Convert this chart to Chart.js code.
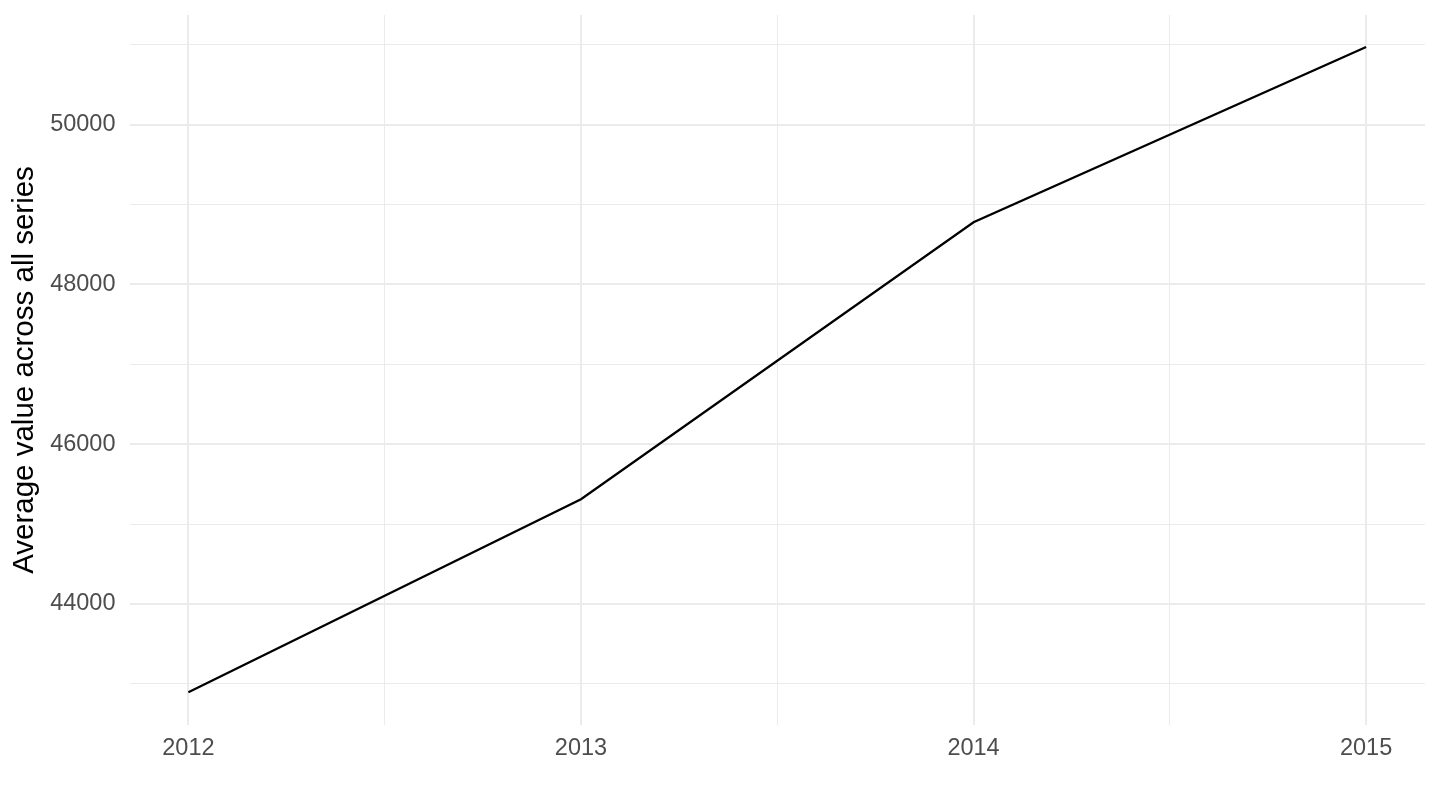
<!DOCTYPE html>
<html>
<head>
<meta charset="utf-8">
<style>
  html, body { margin: 0; padding: 0; background: #ffffff; }
  #wrap { width: 1440px; height: 810px; }
</style>
<script src="https://cdn.jsdelivr.net/npm/chart.js@4/dist/chart.umd.min.js"></script>
</head>
<body>
<div id="wrap"><canvas id="c" width="1440" height="810"></canvas></div>
<script>
// ---- data ----
const years = [2012, 2013, 2014, 2015];
const values = [42895, 45311, 48779, 50973];
const xTicks = [2012, 2012.5, 2013, 2013.5, 2014, 2014.5, 2015];
const xLabelled = [2012, 2013, 2014, 2015];
const yTicks = [43000, 44000, 45000, 46000, 47000, 48000, 49000, 50000, 51000];
const yLabelled = [44000, 46000, 48000, 50000];
const yTitle = 'Average value across all series';

const FONT = '"Liberation Sans", Arial, Helvetica, sans-serif';
const MAJOR = '#EBEBEB';

const gridStyle = (labelled) => ({
  color: MAJOR,
  lineWidth: (ctx) => (ctx.tick && labelled.includes(ctx.tick.value)) ? 2 : 1,
  drawTicks: false
});

new Chart(document.getElementById('c'), {
  type: 'line',
  data: {
    datasets: [{
      data: years.map((y, i) => ({ x: y, y: values[i] })),
      borderColor: '#000000',
      borderWidth: 2.3,
      pointRadius: 0,
      tension: 0,
      fill: false
    }]
  },
  options: {
    responsive: false,
    devicePixelRatio: 1,
    animation: false,
    layout: { padding: { left: 0, top: 15, right: 15, bottom: 0 } },
    plugins: { legend: { display: false }, tooltip: { enabled: false } },
    scales: {
      x: {
        type: 'linear',
        min: 2011.85,
        max: 2015.15,
        afterBuildTicks: (s) => { s.ticks = xTicks.map(v => ({ value: v })); },
        afterFit: (s) => { s.height = 85; s.paddingLeft = 0; s.paddingRight = 0; },
        grid: gridStyle(xLabelled),
        border: { display: false },
        ticks: {
          autoSkip: false,
          maxRotation: 0,
          padding: 9.5,
          color: '#4D4D4D',
          font: { family: FONT, size: 23.5 },
          callback: (v) => xLabelled.includes(v) ? String(v) : ''
        }
      },
      y: {
        type: 'linear',
        min: 42485,
        max: 51373,
        afterBuildTicks: (s) => { s.ticks = yTicks.map(v => ({ value: v })); },
        afterFit: (s) => { s.width = 129.5; s.paddingTop = 0; s.paddingBottom = 0; },
        grid: gridStyle(yLabelled),
        border: { display: false },
        title: {
          display: true,
          text: yTitle,
          color: '#000000',
          font: { family: FONT, size: 29.5, lineHeight: 1 },
          padding: { top: 10, bottom: 0 }
        },
        ticks: {
          autoSkip: false,
          padding: 14,
          color: '#4D4D4D',
          font: { family: FONT, size: 23.5 },
          callback: (v) => yLabelled.includes(v) ? String(v) : ''
        }
      }
    }
  }
});
</script>
</body>
</html>
